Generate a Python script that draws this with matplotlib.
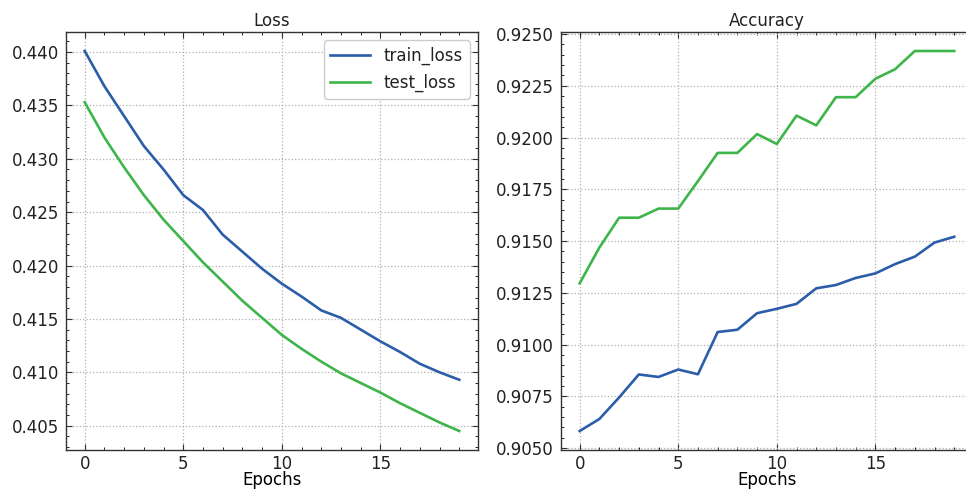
import matplotlib
matplotlib.use("Agg")
import matplotlib.pyplot as plt
from matplotlib.ticker import MultipleLocator, AutoMinorLocator, FormatStrFormatter

epochs = list(range(20))

train_loss = [0.4401, 0.4368, 0.4340, 0.4312, 0.4290, 0.4266, 0.4252, 0.4229, 0.4213, 0.4197,
              0.4183, 0.4171, 0.4158, 0.4151, 0.4140, 0.4129, 0.4119, 0.4108, 0.4100, 0.4093]
test_loss = [0.4353, 0.4320, 0.4292, 0.4266, 0.4243, 0.4223, 0.4203, 0.4185, 0.4167, 0.4151,
             0.4135, 0.4122, 0.4110, 0.4099, 0.4090, 0.4081, 0.4071, 0.4062, 0.4053, 0.4045]

train_acc = [0.90583, 0.90641, 0.90745, 0.90856, 0.90844, 0.90880, 0.90857, 0.91061, 0.91072, 0.91152,
             0.91173, 0.91197, 0.91272, 0.91288, 0.91322, 0.91344, 0.91389, 0.91425, 0.91493, 0.91521]
test_acc = [0.91296, 0.91469, 0.91613, 0.91613, 0.91657, 0.91657, 0.91790, 0.91926, 0.91926, 0.92017,
            0.91969, 0.92106, 0.92059, 0.92195, 0.92195, 0.92284, 0.92330, 0.92418, 0.92418, 0.92418]

blue = "#2B5DA8"
green = "#3DB54A"

plt.rcParams.update({
    "font.family": "DejaVu Sans",
    "font.size": 12,
    "text.color": "#222222",
    "xtick.labelcolor": "#222222",
    "ytick.labelcolor": "#222222",
    "xtick.direction": "in",
    "ytick.direction": "in",
    "xtick.top": True,
    "ytick.right": True,
    "xtick.minor.visible": True,
    "ytick.minor.visible": True,
    "xtick.major.size": 4,
    "ytick.major.size": 4,
    "xtick.minor.size": 2,
    "ytick.minor.size": 2,
    "axes.linewidth": 1.0,
    "axes.edgecolor": "#333333",
})

fig = plt.figure(figsize=(9.66, 4.91), dpi=100)
ax1 = fig.add_axes([0.0683, 0.0835, 0.4265, 0.8513])
ax2 = fig.add_axes([0.5807, 0.0835, 0.4265, 0.8513])


def style(ax):
    ax.grid(True, which="major", color="#b0b0b0", linestyle=":", linewidth=0.9)
    ax.xaxis.set_major_locator(MultipleLocator(5))
    ax.xaxis.set_minor_locator(MultipleLocator(1))
    ax.yaxis.set_minor_locator(AutoMinorLocator(5))
    ax.set_xlabel("Epochs", labelpad=-1)
    ax.tick_params(axis="x", which="major", pad=3.5, color="#333333")
    ax.tick_params(axis="y", which="major", pad=5, color="#333333")


ax1.plot(epochs, train_loss, color=blue, lw=1.9, label="train_loss")
ax1.plot(epochs, test_loss, color=green, lw=1.9, label="test_loss")
ax1.yaxis.set_major_locator(MultipleLocator(0.005))
ax1.set_title("Loss", fontsize=12, pad=4)
style(ax1)
ax1.legend(loc="upper right", fontsize=12, frameon=True, fancybox=True,
           edgecolor="#cccccc", framealpha=1.0, handlelength=2.4)

ax2.plot(epochs, train_acc, color=blue, lw=1.9)
ax2.plot(epochs, test_acc, color=green, lw=1.9)
ax2.yaxis.set_major_locator(MultipleLocator(0.0025))
ax2.yaxis.set_major_formatter(FormatStrFormatter("%.4f"))
ax2.set_title("Accuracy", fontsize=12, pad=4)
style(ax2)

fig.savefig("out.png", dpi=100)
